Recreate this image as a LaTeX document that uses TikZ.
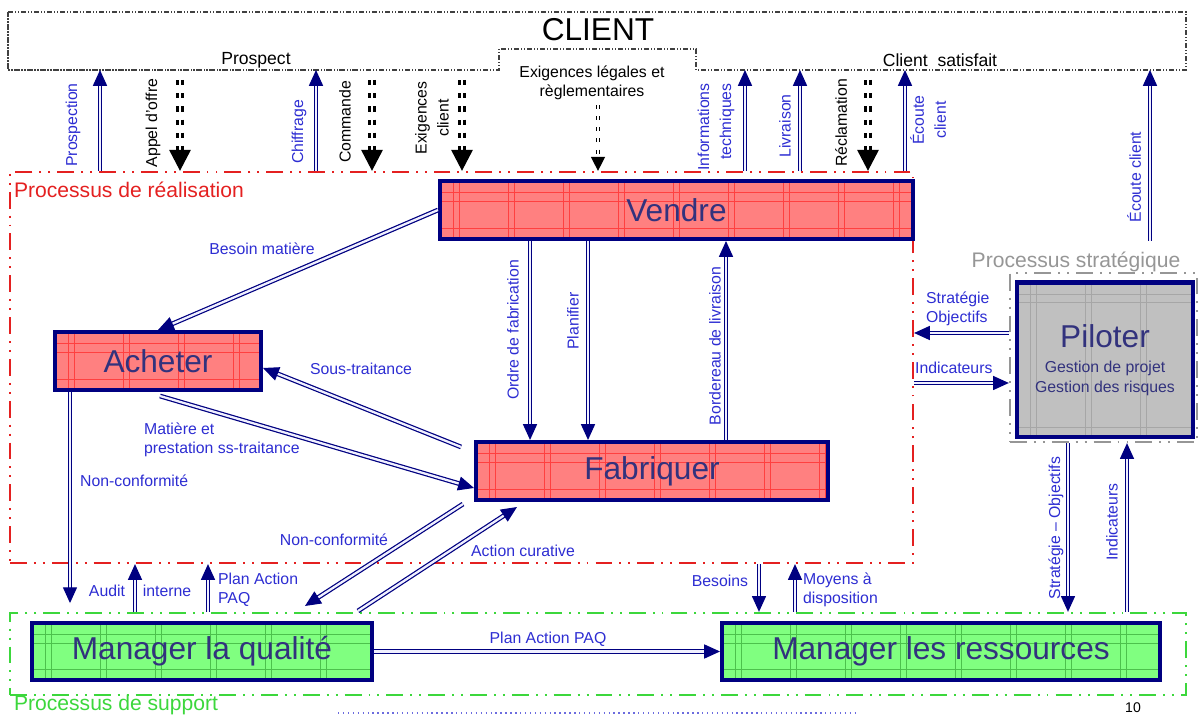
\documentclass[tikz,border=0pt]{standalone}
\usepackage{fontspec}
\setmainfont{Liberation Sans}
\usetikzlibrary{arrows.meta}

\definecolor{navy}{RGB}{0,0,128}
\definecolor{lblblue}{RGB}{45,45,210}
\definecolor{boxtext}{RGB}{50,50,125}
\definecolor{boxred}{RGB}{255,128,128}
\definecolor{boxgreen}{RGB}{128,255,128}
\definecolor{boxgray}{RGB}{192,192,192}
\definecolor{realred}{RGB}{228,32,32}
\definecolor{suppgreen}{RGB}{60,215,60}
\definecolor{stratgray}{RGB}{150,150,150}

\tikzset{
  flow/.style={draw=navy, line width=.7pt, double=blue!6!white, double distance=1.3pt,
    -{Triangle[length=9pt,width=8pt]}},
  req/.style={draw=black, line width=1.7pt, double=white, double distance=1.1pt,
    dash pattern=on 3pt off 4.5pt, -{Triangle[length=12pt,width=12pt]}},
  reqthin/.style={req, line width=.8pt, double distance=.8pt, dash pattern=on 2.3pt off 4pt,
    -{Triangle[length=8pt,width=8pt]}},
  lbl/.style={text=lblblue, font=\fontsize{9}{11}\selectfont, inner sep=1pt},
  blk/.style={lbl, text=black},
  dashdotdot/.style={dash pattern=on 9.6pt off 4pt on 1.1pt off 4pt on 1.1pt off 4pt},
  zone/.style={draw=#1, line width=1.3pt, dashdotdot, inner sep=0pt},
  zonetitle/.style={text=#1, font=\fontsize{12}{14}\selectfont, inner sep=1pt},
  procbox/.style 2 args={draw=navy, line width=2.3pt, fill=#1, text=boxtext,
    font=\fontsize{18}{20}\selectfont, inner sep=0pt,
    path picture={
      \foreach \i in {0,...,9}
        \draw[#2, line width=.35pt]
          ([shift={(\i*55+13,0)}]path picture bounding box.south west) -- ++(0,4cm)
          ([shift={(\i*55+19,0)}]path picture bounding box.south west) -- ++(0,4cm);
      \draw[#2, line width=.35pt]
        ([yshift=-6.5pt]path picture bounding box.north west) -- ([yshift=-6.5pt]path picture bounding box.north east)
        ([yshift=-11.5pt]path picture bounding box.north west) -- ([yshift=-11.5pt]path picture bounding box.north east)
        ([yshift=6pt]path picture bounding box.south west) -- ([yshift=6pt]path picture bounding box.south east);
    }},
}

\begin{document}
\begin{tikzpicture}[x=0.02cm, y=-0.02cm]
  \useasboundingbox (0,0) rectangle (1198,715);
  \draw[black!75, line width=.9pt, dash pattern=on 3pt off 1pt on .7pt off 1pt on .7pt off 1pt]
    (8,12) -- (1186,12) -- (1186,70) -- (696,70) -- (696,49) -- (499,49) -- (499,70) -- (8,70) -- cycle;
  \coordinate (clbot) at (0,70);
  \coordinate (cltop) at (0,80);
  \node[font=\fontsize{18}{20}\selectfont] (client) at (598,30) {CLIENT};
  \node[blk, font=\fontsize{10}{12}\selectfont] (prospect) at (256,60) {Prospect};
  \node[blk, font=\fontsize{10}{12}\selectfont] (satisfait) at (940,60) {Client\ \ satisfait};
  \node[blk, align=center] (legal) at (592,83) {Exigences légales et\\règlementaires};

  \node[zone=realred, minimum width=18.06cm, minimum height=7.82cm] (real) at (461.5,367.5) {};
  \node[zone=suppgreen, minimum width=23.52cm, minimum height=1.64cm] (support) at (598,654) {};
  \node[zone=stratgray, minimum width=3.74cm, minimum height=3.38cm] (strat) at (1103.5,357.5) {};
  \node[zonetitle=realred, anchor=west] (treal) at (12,190) {Processus de réalisation};
  \node[zonetitle=stratgray] (tstrat) at (1076,262) {Processus stratégique};
  \node[zonetitle=suppgreen, anchor=west] (tsupp) at (12,705) {Processus de support};

  \node[procbox={boxred}{red!75}, minimum width=9.46cm, minimum height=1.16cm] (vendre) at (676.5,210) {Vendre};
  \node[procbox={boxred}{red!75}, minimum width=4.12cm, minimum height=1.16cm] (acheter) at (158,361) {Acheter};
  \node[procbox={boxred}{red!75}, minimum width=7.04cm, minimum height=1.16cm] (fabriquer) at (652,471) {Fabriquer};
  \node[procbox={boxgray}{black!35}, minimum width=3.52cm, minimum height=3.1cm, align=center,
    font=\fontsize{9}{11}\selectfont] (piloter) at (1105,360)
    {{\fontsize{18}{20}\selectfont Piloter}\\[3.5pt]Gestion de projet\\Gestion des risques};
  \node[procbox={boxgreen}{green!65!black!70}, minimum width=6.8cm, minimum height=1.14cm] (qualite) at (202,651.5) {Manager la qualité};
  \node[procbox={boxgreen}{green!65!black!70}, minimum width=8.76cm, minimum height=1.14cm] (ressources) at (941,651.5) {Manager les ressources};

  \foreach \x/\n in {100/prosp,316/chiff,745/infot,800/livr,905/ecoute}{
    \coordinate (\n) at (\x,0 |- real.north);
    \draw[flow] (\n) -- (\n |- clbot);
  }
  \coordinate (ecoute2) at ([shift={(46.5,-31)}]strat.north);
  \draw[flow] (ecoute2) -- (ecoute2 |- clbot);
  \foreach \x/\n in {180/appel,372/cmd,462/exig,868/recl}{
    \coordinate (\n) at (\x,0 |- cltop);
    \draw[req] (\n) -- (\n |- real.north);
  }
  \coordinate (legalx) at ([shift={(6,3)}]legal.south);
  \draw[reqthin] (legalx) -- (legalx |- real.north);

  \draw[flow] (vendre.west) -- (acheter.north);
  \coordinate (sous) at ([shift={(-13,7)}]fabriquer.north west);
  \draw[flow] (sous) -- ([shift={(0,7)}]acheter.east);
  \coordinate (mat) at ([shift={(2,4)}]acheter.south);
  \draw[flow] (mat) -- ([shift={(0,17)}]fabriquer.west);
  \coordinate (nc1) at ([shift={(-88,0)}]acheter.south);
  \draw[flow, shorten >=5pt] (nc1) -- (nc1 |- support.north);
  \coordinate (ordre) at ([shift={(92,0)}]vendre.south west);
  \draw[flow] (ordre) -- (ordre |- fabriquer.north);
  \coordinate (plan) at ([shift={(150,0)}]vendre.south west);
  \draw[flow] (plan) -- (plan |- fabriquer.north);
  \coordinate (bord) at ([shift={(252,0)}]fabriquer.north west);
  \draw[flow] (bord) -- (bord |- vendre.south);

  \coordinate (strobj) at (strat.west |- 0,333);
  \draw[flow] (strobj) -- (strobj -| real.east);
  \coordinate (indic) at (real.east |- 0,383);
  \draw[flow] (indic) -- (indic -| strat.west);
  \coordinate (strobj2) at (1068,0 |- strat.south);
  \draw[flow] (strobj2) -- (strobj2 |- support.north);
  \coordinate (indic2) at (1127,0 |- support.north);
  \draw[flow] (indic2) -- (indic2 |- strat.south);

  \coordinate (nc2) at ([shift={(-11,2)}]fabriquer.south west);
  \draw[flow] (nc2) -- ([shift={(-69,-15)}]qualite.north east);
  \coordinate (curat) at ([shift={(-16,-10)}]qualite.north east);
  \draw[flow] (curat) -- ([shift={(43,5)}]fabriquer.south west);
  \coordinate (audit) at (135,0 |- support.north);
  \draw[flow] (audit) -- (audit |- real.south);
  \coordinate (paq) at (208,0 |- support.north);
  \draw[flow] (paq) -- (paq |- real.south);
  \draw[flow] (qualite.east) -- (ressources.west);
  \coordinate (besoins) at (759,0 |- real.south);
  \draw[flow] (besoins) -- (besoins |- support.north);
  \coordinate (moyens) at (795,0 |- support.north);
  \draw[flow] (moyens) -- (moyens |- real.south);

  \node[lbl, rotate=90] (lprosp) at (73,125) {Prospection};
  \node[blk, rotate=90] (lappel) at (153,123) {Appel d'offre};
  \node[lbl, rotate=90] (lchiff) at (299,132) {Chiffrage};
  \node[blk, rotate=90] (lcmd) at (345,122) {Commande};
  \node[blk, rotate=90, align=center] (lexig) at (432,118) {Exigences\\[1.5pt]client};
  \node[lbl, rotate=90, align=right] (linfot) at (716,127) {Informations\\[1.5pt]techniques};
  \node[lbl, rotate=90] (llivr) at (785,126) {Livraison};
  \node[blk, rotate=90] (lrecl) at (841,123) {Réclamation};
  \node[lbl, rotate=90, align=center] (lecoute) at (928,120) {Écoute\\[1.5pt]client};
  \node[lbl, rotate=90] (lecoute2) at (1134,177) {Écoute client};

  \node[lbl] (lbesoin) at (262,249) {Besoin matière};
  \node[lbl] (lsous) at (361,369) {Sous-traitance};
  \node[lbl, align=left, anchor=west] (lmat) at (142,440) {Matière et\\prestation ss-traitance};
  \node[lbl, anchor=west] (lnc1) at (78,481) {Non-conformité};
  \node[lbl, rotate=90] (lordre) at (513,330) {Ordre de fabrication};
  \node[lbl, rotate=90] (lplan) at (573,321) {Planifier};
  \node[lbl, rotate=90] (lbord) at (715,346) {Bordereau de livraison};
  \node[lbl, align=left, anchor=west] (lstrobj) at (924,309) {Stratégie\\Objectifs};
  \node[lbl, anchor=west] (lindic) at (913,368) {Indicateurs};
  \node[lbl, rotate=90] (lstrobj2) at (1056,528) {Stratégie – Objectifs};
  \node[lbl, rotate=90] (lindic2) at (1112,522) {Indicateurs};
  \node[lbl] (lnc2) at (334,540) {Non-conformité};
  \node[lbl] (lcurat) at (523,551) {Action curative};
  \node[lbl] (laudit) at (107,591) {Audit};
  \node[lbl] (linterne) at (167,591) {interne};
  \node[lbl, align=left, anchor=west] (lpaq) at (216,590) {Plan Action\\PAQ};
  \node[lbl] (lpaq2) at (548,639) {Plan Action PAQ};
  \node[lbl] (lbesoins) at (720,581) {Besoins};
  \node[lbl, align=left, anchor=west] (lmoyens) at (801,590) {Moyens à\\disposition};
  \node[blk, font=\fontsize{8}{10}\selectfont] (page) at (1133,708) {10};
  \draw[lblblue!70, dotted, line width=.8pt] (338,713) -- (855,713);
\end{tikzpicture}
\end{document}
